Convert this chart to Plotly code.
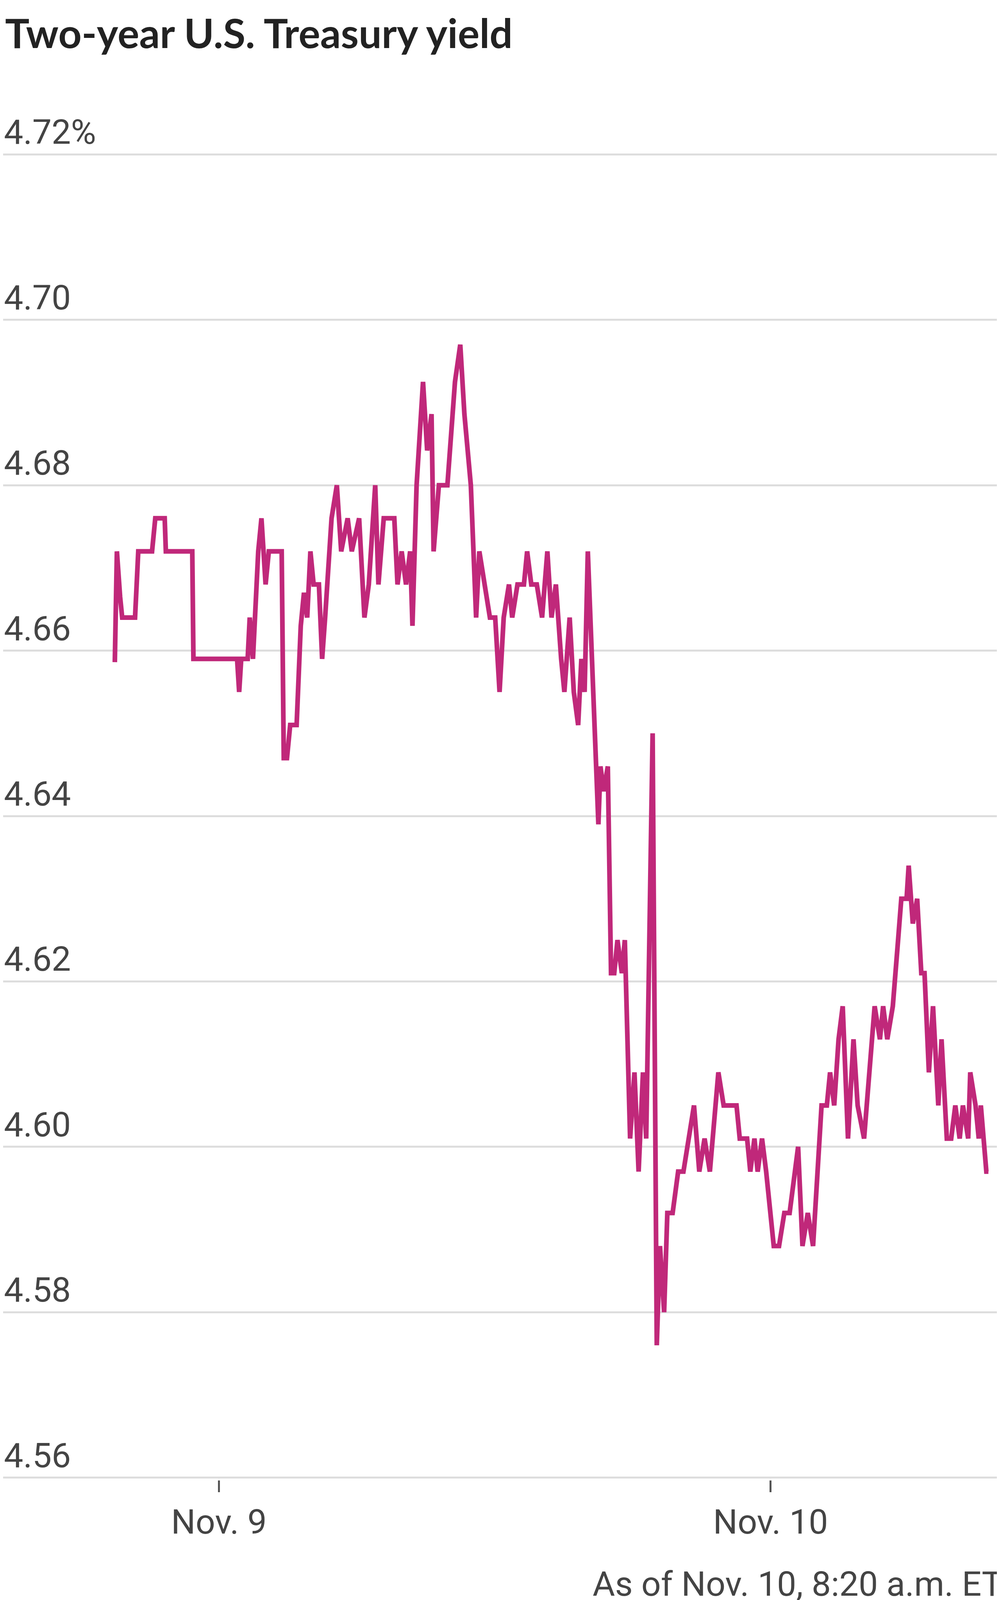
import pandas as pd
import plotly.graph_objects as go

# hours from Nov. 9, 00:00 ET
hours = [-4.53,-4.44,-4.30,-4.21,-3.65,-3.51,-2.91,-2.77,-2.36,-2.31,-1.16,-1.11,0.79,0.88,0.97,1.25,1.34,1.48,1.71,1.85,2.03,2.17,2.73,2.82,2.96,3.10,3.38,3.56,3.70,3.84,3.98,4.12,4.35,4.49,4.62,4.90,5.13,5.32,5.60,5.78,6.10,6.33,6.52,6.80,6.94,7.17,7.63,7.77,7.95,8.14,8.32,8.42,8.60,8.88,9.06,9.25,9.34,9.57,9.94,10.27,10.50,10.68,10.96,11.19,11.33,11.56,11.79,12.02,12.21,12.39,12.62,12.76,12.99,13.27,13.41,13.59,13.83,14.06,14.29,14.47,14.66,14.89,15.03,15.26,15.44,15.63,15.77,15.91,16.05,16.23,16.37,16.51,16.60,16.74,16.92,17.06,17.20,17.34,17.53,17.66,17.89,18.08,18.26,18.45,18.59,18.87,19.05,19.19,19.37,19.51,19.74,19.98,20.21,20.44,20.67,20.90,21.13,21.36,21.59,21.73,21.96,22.52,22.66,22.98,23.12,23.30,23.44,23.63,23.81,24.00,24.14,24.37,24.60,24.83,25.06,25.20,25.39,25.62,25.85,26.03,26.22,26.45,26.59,26.77,26.96,27.14,27.37,27.61,27.79,28.07,28.30,28.53,28.76,28.90,29.08,29.32,29.55,29.69,29.92,30.01,30.19,30.38,30.56,30.70,30.89,31.07,31.30,31.44,31.67,31.86,32.04,32.23,32.37,32.60,32.69,32.92,33.06,33.15,33.39,33.48]
yields = [4.6586,4.672,4.6665,4.664,4.664,4.672,4.672,4.676,4.676,4.672,4.672,4.659,4.659,4.655,4.659,4.659,4.664,4.659,4.672,4.676,4.668,4.672,4.672,4.647,4.647,4.651,4.651,4.663,4.667,4.664,4.672,4.668,4.668,4.659,4.664,4.676,4.680,4.672,4.676,4.672,4.676,4.664,4.668,4.680,4.668,4.676,4.676,4.668,4.672,4.668,4.672,4.663,4.680,4.6925,4.6842,4.6886,4.672,4.680,4.680,4.6925,4.697,4.6886,4.680,4.664,4.672,4.668,4.664,4.664,4.655,4.664,4.668,4.664,4.668,4.668,4.672,4.668,4.668,4.664,4.672,4.664,4.668,4.659,4.655,4.664,4.655,4.651,4.659,4.655,4.672,4.659,4.647,4.639,4.646,4.643,4.646,4.621,4.621,4.625,4.621,4.625,4.601,4.609,4.597,4.609,4.601,4.650,4.576,4.588,4.580,4.592,4.592,4.597,4.597,4.601,4.605,4.597,4.601,4.597,4.605,4.609,4.605,4.605,4.601,4.601,4.597,4.601,4.597,4.601,4.597,4.592,4.588,4.588,4.592,4.592,4.597,4.600,4.588,4.592,4.588,4.597,4.605,4.605,4.609,4.605,4.613,4.617,4.601,4.613,4.605,4.601,4.609,4.617,4.613,4.617,4.613,4.617,4.625,4.630,4.630,4.634,4.627,4.630,4.621,4.621,4.609,4.617,4.605,4.613,4.601,4.601,4.605,4.601,4.605,4.601,4.609,4.605,4.601,4.605,4.597,4.597]

y_ticks = [4.56,4.58,4.60,4.62,4.64,4.66,4.68,4.70,4.72]
y_labels = ["4.56","4.58","4.60","4.62","4.64","4.66","4.68","4.70","4.72%"]
x_ticks = ["2023-11-09","2023-11-10"]
x_labels = ["Nov. 9","Nov. 10"]

base = pd.Timestamp("2023-11-09")
times = [base + pd.Timedelta(hours=h) for h in hours]

FONT = "Roboto, sans-serif"
fig = go.Figure(go.Scatter(x=times, y=yields, mode="lines",
                           line=dict(color="#c0287a", width=12), hoverinfo="skip"))

fig.update_layout(
    width=2560, height=4266, plot_bgcolor="white", paper_bgcolor="white",
    margin=dict(l=0, r=0, t=381, b=485), showlegend=False,
    font=dict(family=FONT, color="#555", size=88),
    title=dict(text="<b>Two-year U.S. Treasury yield</b>", x=0.002, xanchor="left",
               y=0.99, yanchor="top", font=dict(size=104, color="#222", family="Lato, sans-serif")),
)
fig.update_xaxes(range=[base + pd.Timedelta(hours=-9.39), base + pd.Timedelta(hours=34.12)],
                 tickvals=x_ticks, ticktext=x_labels, ticks="outside", ticklen=30, tickwidth=5,
                 tickcolor="#555", showgrid=False, showline=False, zeroline=False,
                 tickfont=dict(size=88, color="#444"))
fig.update_yaxes(range=[4.5597, 4.7203], tickvals=y_ticks, showticklabels=False,
                 gridcolor="#dddddd", gridwidth=5, zeroline=False, showline=False)

for v, lab in zip(y_ticks, y_labels):
    fig.add_annotation(x=0, xref="paper", y=v, yref="y", text=lab, showarrow=False,
                       xanchor="left", yanchor="bottom", yshift=4,
                       font=dict(size=88, color="#444", family=FONT))

fig.add_annotation(x=1, xref="paper", y=-0.078, yref="paper", text="As of Nov. 10, 8:20 a.m. ET",
                   showarrow=False, xanchor="right", yanchor="middle",
                   font=dict(size=88, color="#444", family=FONT))
fig.add_annotation(x=0, xref="paper", y=-0.118, yref="paper", text="Source: Tullett Prebon",
                   showarrow=False, xanchor="left", yanchor="middle",
                   font=dict(size=88, color="#888", family=FONT))

fig.write_html("out.html")
